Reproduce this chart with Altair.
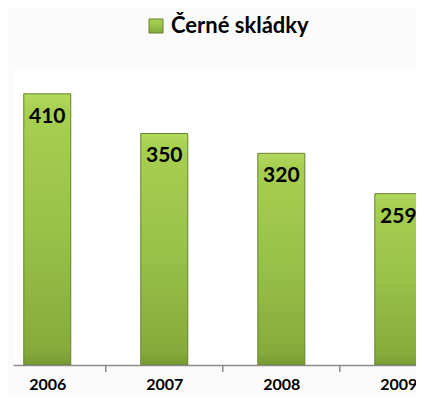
import altair as alt
import pandas as pd

years = [2006, 2007, 2008, 2009]
values = [410, 350, 320, 259]
series_name = "Černé skládky"
tick_positions = [2006.5, 2007.5, 2008.5]

df = pd.DataFrame({"year": years, "value": values, "series": [series_name] * len(years)})
ticks_df = pd.DataFrame({"pos": tick_positions})

PLOT_W = 403
PLOT_H = 295
x_min = 2005.75
x_max = x_min + PLOT_W / 120.0

xscale = alt.Scale(domain=[x_min, x_max], nice=False, zero=False)
yscale = alt.Scale(domain=[0, 446], nice=False)

grad = alt.LinearGradient(
    gradient="linear",
    x1=0, x2=0, y1=0, y2=1,
    stops=[
        alt.GradientStop(color="#b3d95e", offset=0),
        alt.GradientStop(color="#a7cf51", offset=0.06),
        alt.GradientStop(color="#98c248", offset=0.5),
        alt.GradientStop(color="#86ab3c", offset=0.94),
        alt.GradientStop(color="#789a33", offset=1),
    ],
)

bars = alt.Chart(df).mark_bar(size=47, fill=grad, strokeWidth=1, clip=True).encode(
    x=alt.X(
        "year:Q",
        scale=xscale,
        axis=alt.Axis(
            values=years, format="d", ticks=False, grid=False, title=None,
            domainColor="#8c8c8c", domainWidth=1.5, labelFont="Lato", labelFontWeight="bold",
            labelFontSize=16, labelColor="#000000", labelPadding=11, labelFlush=False,
        ),
    ),
    y=alt.Y("value:Q", scale=yscale, axis=None),
    stroke=alt.Stroke(
        "series:N",
        scale=alt.Scale(range=["#65842a"]),
        legend=alt.Legend(
            title=None, orient="none", legendX=132, legendY=-55,
            symbolType="square", symbolSize=196, symbolFillColor="#98c248",
            symbolStrokeWidth=1, labelFont="Lato", labelFontWeight="bold",
            labelFontSize=22, labelColor="#000000", labelOffset=4,
        ),
    ),
)

labels = alt.Chart(df).mark_text(
    baseline="alphabetic", dy=29, font="Lato", fontSize=21, fontWeight="bold",
    color="#000000", clip=True
).encode(
    x=alt.X("year:Q", scale=xscale),
    y=alt.Y("value:Q", scale=yscale),
    text=alt.Text("value:Q"),
)

tick_marks = alt.Chart(ticks_df).mark_rule(color="#8c8c8c", strokeWidth=1.5).encode(
    x=alt.X("pos:Q", scale=xscale),
    y=alt.value(PLOT_H),
    y2=alt.value(PLOT_H + 7),
)

chart = (
    alt.layer(bars, labels, tick_marks)
    .properties(
        width=PLOT_W,
        height=PLOT_H,
        autosize=alt.AutoSizeParams(type="none"),
        padding={"left": 5, "top": 62, "right": 0, "bottom": 28},
        background="#fbfbfb",
    )
    .configure_view(stroke="transparent", fill="white")
)

chart.save("out.html", embed_options={"renderer": "svg", "actions": False})
